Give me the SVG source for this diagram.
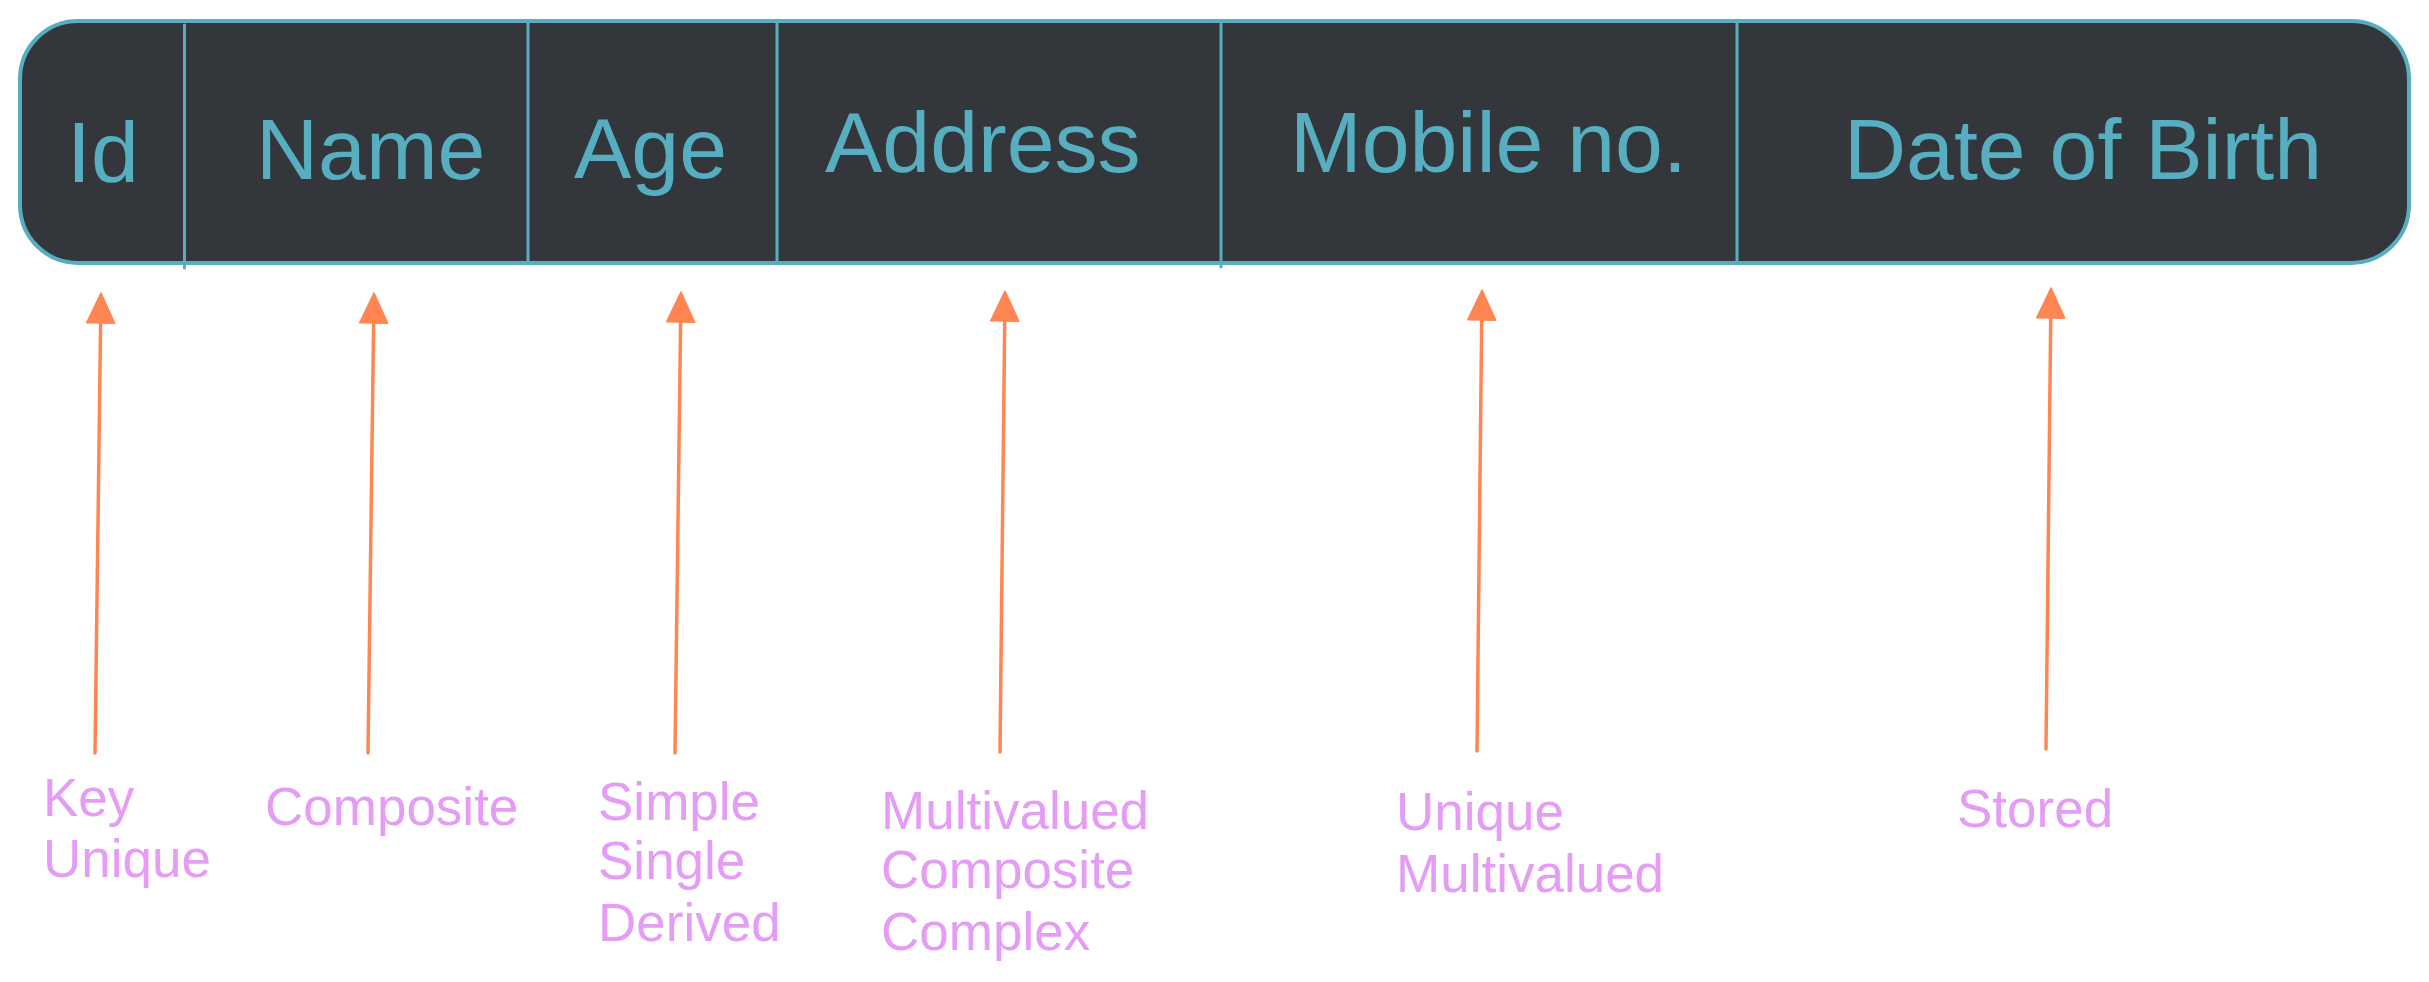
<svg xmlns="http://www.w3.org/2000/svg" width="2429" height="982" viewBox="0 0 2429 982">
  <defs>
    <style>
      .box { fill: #33373C; stroke: #56AEC0; stroke-width: 4; }
      .div { stroke: #56AEC0; stroke-width: 3; stroke-linecap: round; fill: none; }
      .field { font-family: "Liberation Sans", Arial, sans-serif; font-size: 86px; fill: #56AEC0; }
      .lbl { font-family: "Liberation Sans", Arial, sans-serif; font-size: 53px; fill: #E59CF5; }
      .conn { stroke: #FF8552; stroke-width: 3.5; stroke-linecap: round; fill: none; marker-end: url(#head); }
    </style>
    <marker id="head" markerUnits="userSpaceOnUse" viewBox="-2 -20 40 40" markerWidth="40" markerHeight="40" refX="0" refY="0" orient="auto">
      <path d="M0,-14 L30,0 L0,14 Z" fill="#FF8552" stroke="#FF8552" stroke-width="1.5" stroke-linejoin="round"/>
    </marker>
  </defs>
  <rect width="2429" height="982" fill="#FFFFFF"/>

  <g id="entity">
    <rect class="box" x="20" y="21" width="2389" height="242" rx="58" ry="58"/>
    <line class="div" x1="184.5" y1="25" x2="184.5" y2="268"/>
    <line class="div" x1="528" y1="22" x2="528" y2="262"/>
    <line class="div" x1="777" y1="22" x2="777" y2="262"/>
    <line class="div" x1="1221" y1="24" x2="1221" y2="267"/>
    <line class="div" x1="1737" y1="22" x2="1737" y2="262"/>
  </g>

  <g id="field-id"><text class="field" x="67" y="182">Id</text></g>
  <g id="field-name"><text class="field" x="256" y="179">Name</text></g>
  <g id="field-age"><text class="field" x="574" y="178">Age</text></g>
  <g id="field-address"><text class="field" x="825" y="172">Address</text></g>
  <g id="field-mobile"><text class="field" x="1290" y="172">Mobile no.</text></g>
  <g id="field-dob"><text class="field" x="1844" y="179">Date of Birth</text></g>

  <g id="connectors">
    <path class="conn" d="M95,753 L100.6,323"/>
    <path class="conn" d="M368,753 L373.6,323"/>
    <path class="conn" d="M675,753 L680.6,322"/>
    <path class="conn" d="M1000,752 L1004.7,321"/>
    <path class="conn" d="M1477,751 L1481.7,320"/>
    <path class="conn" d="M2046,749 L2050.7,318"/>
  </g>

  <g id="label-id">
    <text class="lbl" x="43" y="816">Key</text>
    <text class="lbl" x="43" y="877">Unique</text>
  </g>
  <g id="label-name">
    <text class="lbl" x="265" y="825">Composite</text>
  </g>
  <g id="label-age">
    <text class="lbl" x="598" y="820">Simple</text>
    <text class="lbl" x="598" y="879">Single</text>
    <text class="lbl" x="598" y="941">Derived</text>
  </g>
  <g id="label-address">
    <text class="lbl" x="881" y="829">Multivalued</text>
    <text class="lbl" x="881" y="888">Composite</text>
    <text class="lbl" x="881" y="950">Complex</text>
  </g>
  <g id="label-mobile">
    <text class="lbl" x="1396" y="830">Unique</text>
    <text class="lbl" x="1396" y="892">Multivalued</text>
  </g>
  <g id="label-dob">
    <text class="lbl" x="1957" y="827">Stored</text>
  </g>
</svg>
